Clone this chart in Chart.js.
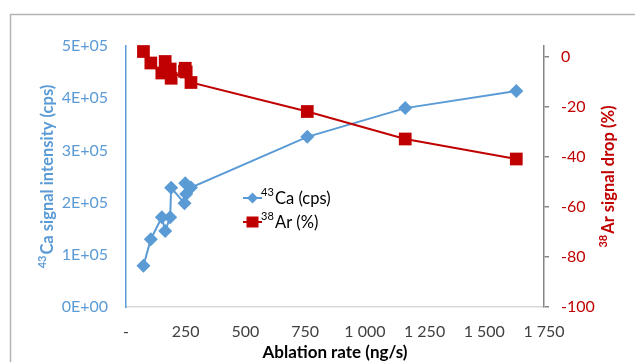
<!DOCTYPE html>
<html>
<head>
<meta charset="utf-8">
<script src="https://cdn.jsdelivr.net/npm/chart.js@4.4.1/dist/chart.umd.min.js"></script>
<style>
	html, body { margin: 0; padding: 0; background: #fff; }
	#wrap { width: 635px; height: 362px; }
</style>
</head>
<body>
<div id="wrap"><canvas id="myChart" width="635" height="362"></canvas></div>
<script>
// data
const ablationRate = [73, 104, 150, 164, 185, 189, 245, 248, 252, 272, 759, 1169, 1634];
const caSignal = [79000, 130000, 172000, 145600, 172000, 228500, 198700, 237000, 216500, 229000, 326000, 381000, 414000];
const arDrop = [2.2, -2.4, -6.4, -1.8, -4.8, -8.5, -5.7, -4.5, -6.0, -10.2, -21.8, -32.8, -40.8];

const xTicks = [0, 250, 500, 750, 1000, 1250, 1500, 1750];
const caTicks = [0, 100000, 200000, 300000, 400000, 500000];
const arTicks = [-100, -80, -60, -40, -20, 0];

const seriesSup = ['43', '38'];
const seriesNames = ['Ca (cps)', 'Ar (%)'];

const BLUE = '#5B9BD5';
const RED = '#C00000';
const FONT = 'Lato, "Open Sans", sans-serif';

function fmtX(v) {
	if (v === 0) return '-';
	return String(v).replace(/\B(?=(\d{3})+(?!\d))/g, ' ');
}

function fmtSci(v) {
	if (v === 0) return '0E+00';
	let e = Math.floor(Math.log10(Math.abs(v)));
	let m = Math.round(v / Math.pow(10, e));
	return m + 'E+' + (e < 10 ? '0' + e : e);
}

function setTicks(list) {
	return function(scale) {
		scale.ticks = list.map(function(v) { return { value: v }; });
	};
}

// title with a raised superscript prefix, rotated bottom-to-top
function supTitle(ctx, sup, text, x, y, color) {
	ctx.save();
	ctx.translate(x, y);
	ctx.rotate(-Math.PI / 2);
	ctx.fillStyle = color;
	ctx.textBaseline = 'alphabetic';
	ctx.textAlign = 'left';
	ctx.font = 'bold 11px ' + FONT;
	let ws = ctx.measureText(sup).width;
	ctx.font = 'bold 16.5px ' + FONT;
	let wm = ctx.measureText(text).width;
	let start = -(ws + wm + 1) / 2;
	ctx.font = 'bold 11px ' + FONT;
	ctx.fillText(sup, start, -1);
	ctx.font = 'bold 16.5px ' + FONT;
	ctx.fillText(text, start + ws + 1, 6);
	ctx.restore();
}

const extras = {
	id: 'extras',
	beforeDraw(chart) {
		const ctx = chart.ctx;
		ctx.save();
		ctx.strokeStyle = '#b4b4b4';
		ctx.lineWidth = 1.5;
		ctx.beginPath();
		ctx.moveTo(10.5, 362);
		ctx.lineTo(10.5, 14.5);
		ctx.lineTo(635, 14.5);
		ctx.stroke();
		ctx.restore();
	},
	afterDraw(chart) {
		const ctx = chart.ctx;
		const a = chart.chartArea;
		const cy = (a.top + a.bottom) / 2;
		supTitle(ctx, seriesSup[0], 'Ca signal intensity (cps)', 47, cy, BLUE);
		supTitle(ctx, seriesSup[1], 'Ar signal drop (%)', 608, cy, RED);

		// legend inside the plot
		const rows = [198, 222];
		chart.data.datasets.forEach(function(ds, i) {
			const y = rows[i];
			ctx.save();
			ctx.strokeStyle = ds.borderColor;
			ctx.lineWidth = 2;
			ctx.beginPath();
			ctx.moveTo(243, y);
			ctx.lineTo(262, y);
			ctx.stroke();
			ctx.fillStyle = ds.backgroundColor;
			if (ds.pointStyle === 'rectRot') {
				ctx.beginPath();
				ctx.moveTo(252.5, y - 5.5);
				ctx.lineTo(258, y);
				ctx.lineTo(252.5, y + 5.5);
				ctx.lineTo(247, y);
				ctx.closePath();
				ctx.fill();
			} else {
				ctx.fillRect(246.5, y - 5.5, 12, 11);
			}
			ctx.fillStyle = '#000';
			ctx.textBaseline = 'alphabetic';
			ctx.font = '11px ' + FONT;
			ctx.fillText(seriesSup[i], 261, y - 2);
			ctx.font = '16.5px ' + FONT;
			ctx.fillText(seriesNames[i], 275, y + 6);
			ctx.restore();
		});
	}
};

const ctx = document.getElementById('myChart').getContext('2d');

new Chart(ctx, {
	type: 'scatter',
	data: {
		datasets: [{
			label: '\u2074\u00B3Ca (cps)',
			data: ablationRate.map(function(x, i) { return { x: x, y: caSignal[i] }; }),
			yAxisID: 'yCa',
			showLine: true,
			borderColor: BLUE,
			backgroundColor: BLUE,
			borderWidth: 2,
			pointStyle: 'rectRot',
			pointRadius: 7,
			pointHoverRadius: 7,
			pointBorderWidth: 0,
			clip: false,
			order: 2
		}, {
			label: '\u00B3\u2078Ar (%)',
			data: ablationRate.map(function(x, i) { return { x: x, y: arDrop[i] }; }),
			yAxisID: 'yAr',
			showLine: true,
			borderColor: RED,
			backgroundColor: RED,
			borderWidth: 2,
			pointStyle: 'rect',
			pointRadius: 9,
			pointHoverRadius: 9,
			pointBorderWidth: 0,
			clip: false,
			order: 1
		}]
	},
	options: {
		responsive: false,
		animation: false,
		layout: { padding: { top: 46, left: 0, right: 0, bottom: 0 } },
		plugins: {
			legend: { display: false },
			tooltip: { enabled: false }
		},
		scales: {
			x: {
				type: 'linear',
				position: 'bottom',
				min: 0,
				max: 1750,
				bounds: 'data',
				afterBuildTicks: setTicks(xTicks),
				afterFit: function(s) { s.height = 55; },
				grid: { display: false, drawTicks: false },
				border: { display: true, color: '#d9d9d9', width: 1.5 },
				ticks: {
					padding: 15,
					color: '#404040',
					font: { family: FONT, size: 16 },
					maxRotation: 0,
					autoSkip: false,
					callback: function(v) { return fmtX(v); }
				},
				title: {
					display: true,
					text: 'Ablation rate (ng/s)',
					color: '#000',
					font: { family: FONT, size: 17, weight: 'bold' },
					padding: { top: 0, bottom: -1 }
				}
			},
			yCa: {
				type: 'linear',
				position: 'left',
				min: 0,
				max: 500000,
				bounds: 'data',
				afterBuildTicks: setTicks(caTicks),
				afterFit: function(s) { s.width = 126; },
				grid: { display: false, drawTicks: false },
				border: { display: true, color: BLUE, width: 1.5 },
				ticks: {
					padding: 18,
					color: BLUE,
					font: { family: FONT, size: 16 },
					callback: function(v) { return fmtSci(v); }
				}
			},
			yAr: {
				type: 'linear',
				position: 'right',
				min: -100,
				max: 4.4,
				bounds: 'data',
				afterBuildTicks: setTicks(arTicks),
				afterFit: function(s) { s.width = 91; },
				grid: { display: true, drawOnChartArea: false, drawTicks: true, tickLength: 5, color: '#868686', lineWidth: 1.5 },
				border: { display: true, color: '#868686', width: 1.5 },
				ticks: {
					padding: 12,
					color: RED,
					font: { family: FONT, size: 16 }
				}
			}
		}
	},
	plugins: [extras]
});
</script>
</body>
</html>
